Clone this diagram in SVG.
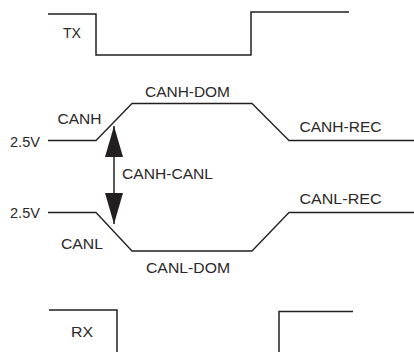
<svg xmlns="http://www.w3.org/2000/svg" width="414" height="352" viewBox="0 0 414 352">
<style>
.sig{fill:none;stroke:#231f20;stroke-width:1.5;stroke-linejoin:miter}
.bus{fill:none;stroke:#231f20;stroke-width:1.3}
.lbl{font-family:"Liberation Sans",Arial,sans-serif;font-size:15.5px;fill:#2b2829}
.conn{stroke:#231f20;stroke-width:1.5;fill:none}
</style>
<defs>
<marker id="ah" markerUnits="userSpaceOnUse" markerWidth="31" markerHeight="18" viewBox="0 0 31 18" refX="31" refY="9" orient="auto-start-reverse">
<path d="M0,0 L31,9 L0,18 z" fill="#231f20"/>
</marker>
</defs>
<rect width="414" height="352" fill="#ffffff"/>
<g id="tx">
<polyline class="sig" points="48,14 96,14 96,55 251,55 251,12 349,12"/>
<text class="lbl" x="63" y="38" textLength="18" lengthAdjust="spacingAndGlyphs">TX</text>
</g>
<g id="canh">
<polyline class="bus" points="48,140.5 96,140.5 132,103.5 252,103.5 289,140.5 414,140.5"/>
<text class="lbl" x="10" y="146.5" textLength="30" lengthAdjust="spacingAndGlyphs">2.5V</text>
<text class="lbl" x="57.5" y="123.5" textLength="44" lengthAdjust="spacingAndGlyphs">CANH</text>
<text class="lbl" x="145" y="96.5" textLength="85" lengthAdjust="spacingAndGlyphs">CANH-DOM</text>
<text class="lbl" x="299.5" y="131.5" textLength="82" lengthAdjust="spacingAndGlyphs">CANH-REC</text>
</g>
<g id="canl">
<polyline class="bus" points="48,212.5 96,212.5 132,251 252,251 289,212.5 414,212.5"/>
<text class="lbl" x="10" y="217.5" textLength="30" lengthAdjust="spacingAndGlyphs">2.5V</text>
<text class="lbl" x="61" y="248.5" textLength="42" lengthAdjust="spacingAndGlyphs">CANL</text>
<text class="lbl" x="146" y="272.5" textLength="84" lengthAdjust="spacingAndGlyphs">CANL-DOM</text>
<text class="lbl" x="299.5" y="204" textLength="82" lengthAdjust="spacingAndGlyphs">CANL-REC</text>
</g>
<g id="rx">
<polyline class="sig" points="49,310 117,310 117,352"/>
<polyline class="sig" points="279,352 279,311.5 353,311.5"/>
<text class="lbl" x="71" y="337" textLength="22" lengthAdjust="spacingAndGlyphs">RX</text>
</g>
<g id="connectors">
<line class="conn" x1="114" y1="126" x2="114" y2="224" marker-start="url(#ah)" marker-end="url(#ah)"/>
<text class="lbl" x="122" y="178.5" textLength="91" lengthAdjust="spacingAndGlyphs">CANH-CANL</text>
</g>
</svg>
